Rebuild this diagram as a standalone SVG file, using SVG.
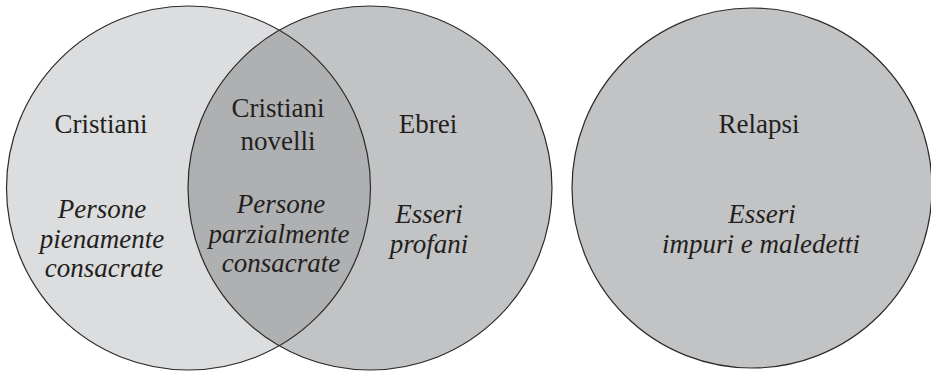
<svg xmlns="http://www.w3.org/2000/svg" width="931" height="371" viewBox="0 0 931 371">
<rect width="931" height="371" fill="#ffffff"/>
<g id="cristiani">
<circle cx="188.5" cy="188" r="182" fill="#dcdddf"/>
</g>
<g id="ebrei">
<circle cx="370" cy="188" r="182" fill="#c2c3c5"/>
</g>
<g id="cristiani-novelli">
<path d="M279.25 30.2 A182 182 0 0 1 279.25 345.8 A182 182 0 0 1 279.25 30.2 Z" fill="#afb0b2"/>
</g>
<g id="outlines" fill="none" stroke="#2b2b2b" stroke-width="1.2">
<circle cx="188.5" cy="188" r="182"/>
<circle cx="370" cy="188" r="182"/>
</g>
<g id="relapsi">
<circle cx="752" cy="188" r="180" fill="#c2c3c5" stroke="#2b2b2b" stroke-width="1.2"/>
</g>
<text x="101" y="133" style="font-family:'Liberation Serif',Tinos,serif;font-size:27px" text-anchor="middle" fill="#231f20">Cristiani</text>
<text x="102" y="218" style="font-family:'Liberation Serif',Tinos,serif;font-size:27px;font-style:italic" text-anchor="middle" fill="#231f20">Persone</text>
<text x="102" y="248" style="font-family:'Liberation Serif',Tinos,serif;font-size:27px;font-style:italic" text-anchor="middle" fill="#231f20">pienamente</text>
<text x="104" y="277" style="font-family:'Liberation Serif',Tinos,serif;font-size:27px;font-style:italic" text-anchor="middle" fill="#231f20">consacrate</text>
<text x="278" y="117" style="font-family:'Liberation Serif',Tinos,serif;font-size:27px" text-anchor="middle" fill="#231f20">Cristiani</text>
<text x="278" y="150" style="font-family:'Liberation Serif',Tinos,serif;font-size:27px" text-anchor="middle" fill="#231f20">novelli</text>
<text x="281" y="213" style="font-family:'Liberation Serif',Tinos,serif;font-size:27px;font-style:italic" text-anchor="middle" fill="#231f20">Persone</text>
<text x="279" y="243" style="font-family:'Liberation Serif',Tinos,serif;font-size:27px;font-style:italic" text-anchor="middle" fill="#231f20">parzialmente</text>
<text x="281" y="272" style="font-family:'Liberation Serif',Tinos,serif;font-size:27px;font-style:italic" text-anchor="middle" fill="#231f20">consacrate</text>
<text x="428" y="133" style="font-family:'Liberation Serif',Tinos,serif;font-size:27px" text-anchor="middle" fill="#231f20">Ebrei</text>
<text x="429" y="223" style="font-family:'Liberation Serif',Tinos,serif;font-size:27px;font-style:italic" text-anchor="middle" fill="#231f20">Esseri</text>
<text x="429" y="253" style="font-family:'Liberation Serif',Tinos,serif;font-size:27px;font-style:italic" text-anchor="middle" fill="#231f20">profani</text>
<text x="759" y="133" style="font-family:'Liberation Serif',Tinos,serif;font-size:27px" text-anchor="middle" fill="#231f20">Relapsi</text>
<text x="762" y="223" style="font-family:'Liberation Serif',Tinos,serif;font-size:27px;font-style:italic" text-anchor="middle" fill="#231f20">Esseri</text>
<text x="761" y="253" style="font-family:'Liberation Serif',Tinos,serif;font-size:27px;font-style:italic" text-anchor="middle" fill="#231f20">impuri e maledetti</text>
</svg>
